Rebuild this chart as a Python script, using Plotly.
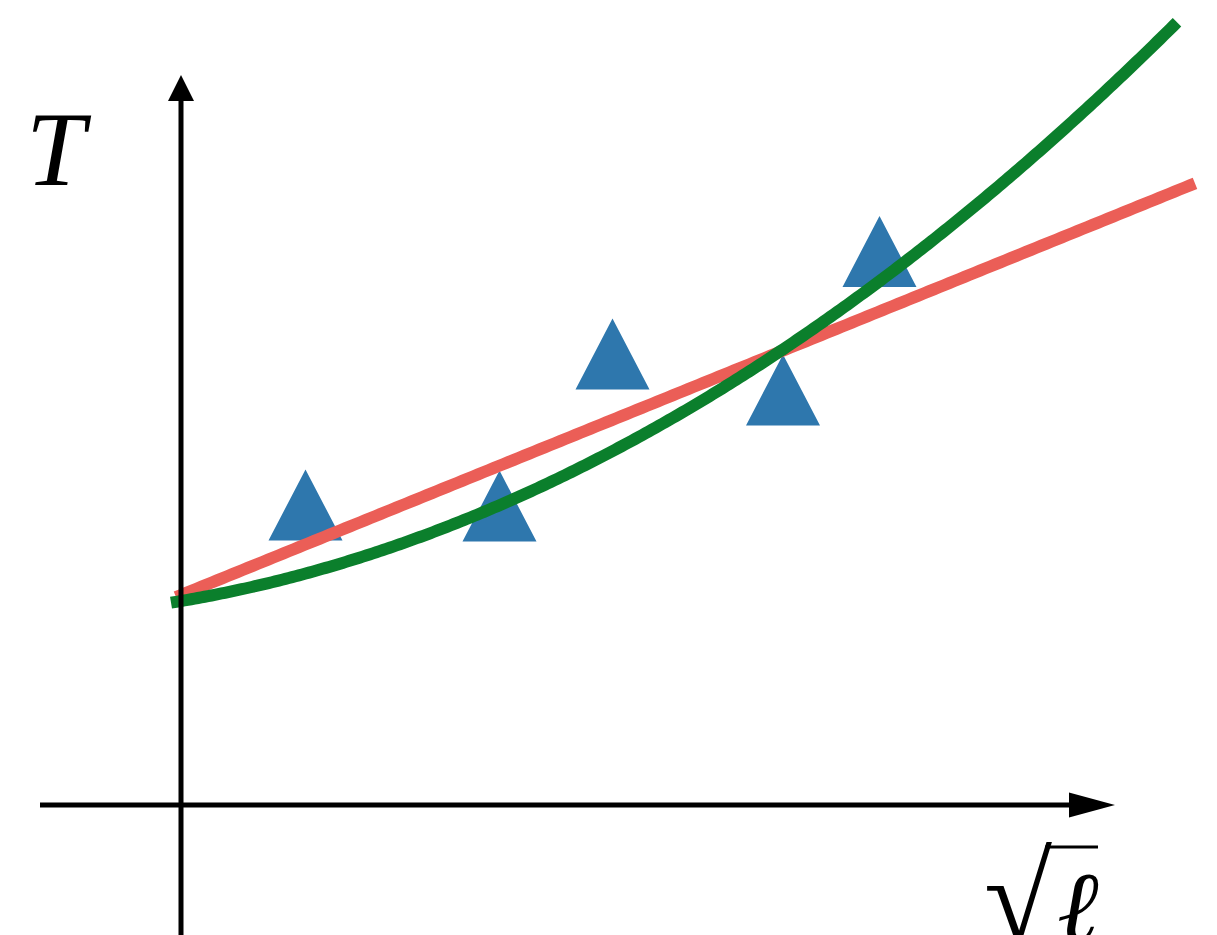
import numpy as np
import plotly.graph_objects as go

# Measured points (sqrt(l), T) in plot units
sqrt_l = [1.245, 3.185, 4.315, 6.02, 6.985]
T_vals = [3.00, 2.99, 4.51, 4.15, 5.535]

# Linear model T = a + b*x
lin_coef = [2.10, 0.406]
lin_x_end = 10.14
# Quadratic model T = c0 + c1*x + c2*x^2
quad_coef = [2.04, 0.1689, 0.04138]
quad_x_end = 9.96

BLUE = "#2E77AD"
RED = "#EB5E57"
GREEN = "#0B7F2C"

fig = go.Figure()

# Fitted curves
xl = np.linspace(-0.05, lin_x_end, 200)
yl = lin_coef[0] + lin_coef[1] * xl
xq = np.linspace(-0.1, quad_x_end, 300)
yq = quad_coef[0] + quad_coef[1] * xq + quad_coef[2] * xq ** 2

# Triangular markers as polygons centred on the data points
hw, hh = 0.37, 0.355
tx, ty = [], []
for x, y in zip(sqrt_l, T_vals):
    tx += [x - hw, x + hw, x, x - hw, None]
    ty += [y - hh, y - hh, y + hh, y - hh, None]
fig.add_trace(go.Scatter(x=tx, y=ty, mode="lines", fill="toself",
                         fillcolor=BLUE, line=dict(width=0, color=BLUE),
                         hoverinfo="skip"))

fig.add_trace(go.Scatter(x=xl, y=yl, mode="lines",
                         line=dict(color=RED, width=12, simplify=False)))
fig.add_trace(go.Scatter(x=xq, y=yq, mode="lines",
                         line=dict(color=GREEN, width=12, simplify=False)))

# Axes with arrowheads
shapes = [
    dict(type="line", x0=-1.41, y0=0, x1=9.1, y1=0,
         line=dict(color="black", width=5)),
    dict(type="line", x0=0, y0=-1.4, x1=0, y1=7.2,
         line=dict(color="black", width=5)),
    dict(type="path", path="M 8.88 0.125 L 9.34 0 L 8.88 -0.125 Z",
         fillcolor="black", line=dict(width=0)),
    dict(type="path", path="M -0.13 7.04 L 0 7.30 L 0.13 7.04 Z",
         fillcolor="black", line=dict(width=0)),
    # vinculum of the radical in the x label
    dict(type="line", x0=8.64, y0=-0.42, x1=9.17, y1=-0.42,
         line=dict(color="black", width=3)),
]

annotations = [
    dict(x=-1.22, y=6.56, text="<i>T</i>", showarrow=False,
         font=dict(family="Liberation Serif", size=106, color="black"),
         xanchor="center", yanchor="middle"),
    dict(x=8.37, y=-0.93, text="√", showarrow=False,
         font=dict(family="Liberation Serif", size=124, color="black"),
         xanchor="center", yanchor="middle"),
    dict(x=8.97, y=-1.02, text="<i>ℓ</i>", showarrow=False,
         font=dict(family="Liberation Serif", size=100, color="black"),
         xanchor="center", yanchor="middle"),
]

fig.update_layout(
    width=1217, height=935,
    margin=dict(l=0, r=0, t=0, b=0),
    paper_bgcolor="white", plot_bgcolor="white",
    showlegend=False,
    xaxis=dict(range=[-1.81, 10.36], visible=False, fixedrange=True),
    yaxis=dict(range=[-1.30, 8.05], visible=False, fixedrange=True),
    shapes=shapes, annotations=annotations,
)

fig.write_html("out.html")
